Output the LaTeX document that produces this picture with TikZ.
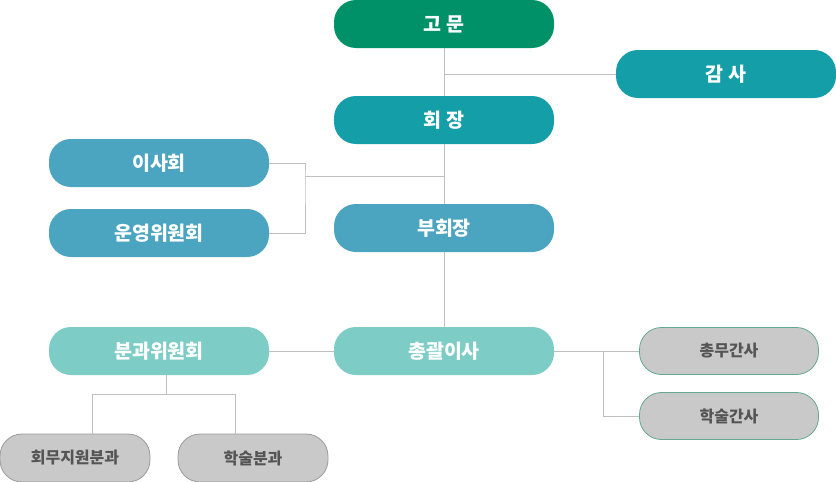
\documentclass[tikz,border=0pt]{standalone}
\usepackage{fontspec}
\setmainfont{Noto Sans CJK KR}
\definecolor{gomungreen}{HTML}{009169}
\definecolor{teal}{HTML}{149EA8}
\definecolor{steel}{HTML}{4BA5C0}
\definecolor{mint}{HTML}{7DCCC6}
\definecolor{boxgray}{HTML}{C9C9C9}
\definecolor{textgray}{HTML}{555555}
\definecolor{linegray}{HTML}{BFBFBF}
\definecolor{edgegreen}{HTML}{62A98D}
\definecolor{edgegray}{HTML}{9A9A9A}
\begin{document}
\begin{tikzpicture}[x=1pt,y=-1pt,
    mainbox/.style={rounded corners=22pt,minimum width=220pt,minimum height=48pt,inner sep=0pt,
        text=white,font=\bfseries\fontsize{19.5}{19.5}\selectfont},
    subbox/.style={rounded corners=22pt,minimum width=179pt,minimum height=47pt,inner sep=0pt,
        fill=boxgray,draw=edgegreen,line width=0.8pt,text=textgray,font=\bfseries\fontsize{16}{16}\selectfont},
    deptbox/.style={subbox,minimum width=150pt,minimum height=48pt,draw=edgegray},
    link/.style={draw=linegray,line width=0.8pt}]
    \useasboundingbox (0,0) rectangle (836,482);

    % 상위 조직
    \node[mainbox,fill=gomungreen] (gomun) at (444,24) {고 문};
    \node[mainbox,fill=teal] (gamsa) at (726,74) {감 사};
    \node[mainbox,fill=teal] (hoejang) at (444,120) {회 장};
    \node[mainbox,fill=steel] (buhoejang) at (444,228) {부회장};
    \node[mainbox,fill=steel] (isahoe) at (159,163) {이사회};
    \node[mainbox,fill=steel] (unyeong) at (159,233) {운영위원회};

    % 실무 조직
    \node[mainbox,fill=mint] (chonggwal) at (444,351) {총괄이사};
    \node[mainbox,fill=mint] (bungwa) at (159,351) {분과위원회};
    \node[subbox] (chongmu) at (729,351) {총무간사};
    \node[subbox] (haksul) at (729,416) {학술간사};
    \node[deptbox] (hoemu) at (75,458) {회무지원분과};
    \node[deptbox] (haksulbun) at (253,458) {학술분과};

    \coordinate (brace) at (305,176);
    \coordinate (kjoin) at (603,351);
    \coordinate (bsplit) at (166,394);
    \coordinate (hl) at (92,394);
    \coordinate (hr) at (235,394);

    \draw[link] (gomun) -- (hoejang);
    \draw[link] (hoejang) -- (buhoejang);
    \draw[link] (buhoejang) -- (chonggwal);
    \draw[link] (gamsa.west) -- (gamsa.west -| gomun.south);
    \draw[link] (isahoe.east) -| (brace) |- (unyeong.east);
    \draw[link] (brace) -- (brace -| hoejang.south);
    \draw[link] (bungwa) -- (chonggwal);
    \draw[link] (chonggwal) -- (chongmu);
    \draw[link] (kjoin) |- (haksul.west);
    \draw[link] (bungwa.south -| bsplit) -- (bsplit);
    \draw[link] (hoemu.north -| hl) -- (hl) -- (hr) -- (haksulbun.north -| hr);
\end{tikzpicture}
\end{document}
